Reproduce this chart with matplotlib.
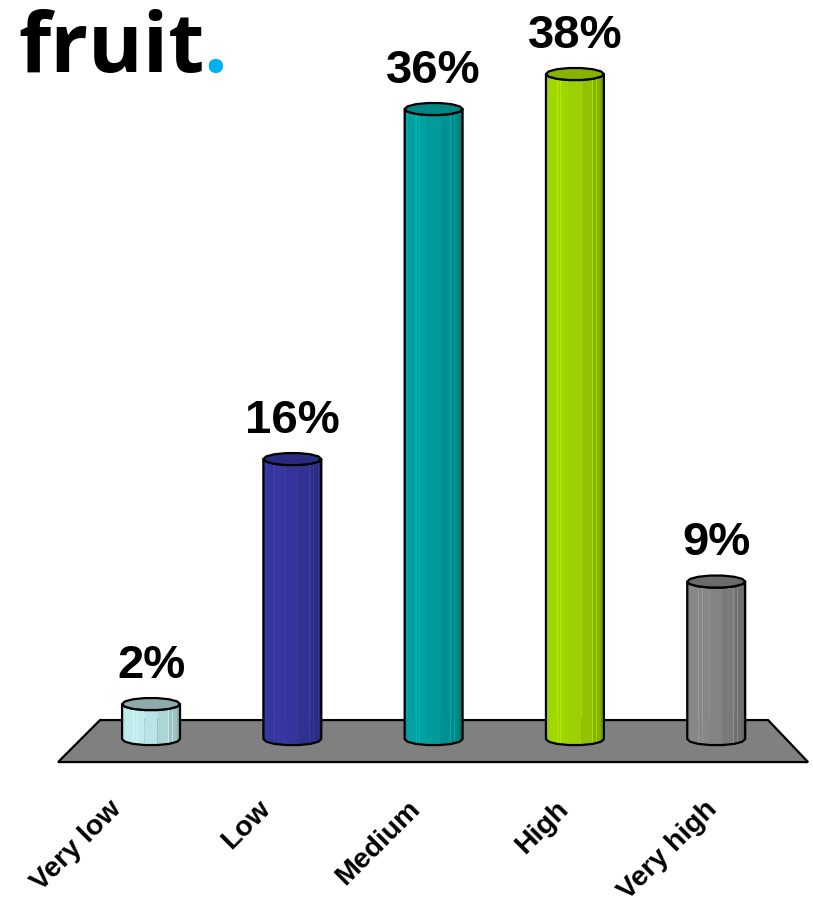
import numpy as np
import matplotlib.pyplot as plt
from matplotlib.patches import Polygon
from matplotlib.colors import to_rgb

categories = ['Very low', 'Low', 'Medium', 'High', 'Very high']
shares = [2, 16, 36, 38, 9]
share_labels = ['2%', '16%', '36%', '38%', '9%']
body_colors = ['#b5dfe0', '#333399', '#009999', '#99cc00', '#808080']
cap_colors = ['#8eaaab', '#2a2a80', '#008585', '#86b300', '#6b6b6b']


def shade(color, f):
    return tuple(min(1.0, c * f) for c in to_rgb(color))


def cylinder(ax, xc, h, body, cap, w=0.205, ry=0.35, n=14):
    """Faceted cylinder standing on y=0, seen slightly from above."""
    phi = np.linspace(np.pi, 2 * np.pi, n // 2 + 1)
    xs = xc + w * np.cos(phi)
    ys = ry * np.sin(phi)
    for k in range(len(phi) - 1):
        t = (0.5 * (phi[k] + phi[k + 1]) - np.pi) / np.pi  # 0 = left edge, 1 = right edge
        f = 1.0 + 0.08 * np.sin(np.pi * t * 1.3) - 0.2 * t ** 2
        quad = [(xs[k], ys[k]), (xs[k + 1], ys[k + 1]),
                (xs[k + 1], ys[k + 1] + h), (xs[k], ys[k] + h)]
        ax.add_patch(Polygon(quad, closed=True, fc=shade(body, f), ec=shade(body, f),
                             lw=0.3, zorder=3))
    # faint highlight streaks
    for dx in (-0.62, -0.5, 0.58, 0.72):
        ax.plot([xc + dx * w] * 2, [ys.min() * 0.6, h - 0.2], color=shade(body, 1.3),
                lw=0.6, alpha=0.6, zorder=3.5)
    body_outline = list(zip(xs, ys)) + list(zip(xs[::-1], ys[::-1] + h))
    ax.add_patch(Polygon(body_outline, closed=True, fc='none', ec='black', lw=1.6,
                         joinstyle='round', zorder=4))
    ring = np.linspace(0, 2 * np.pi, n + 1)
    top = list(zip(xc + w * np.cos(ring), h + ry * np.sin(ring)))
    ax.add_patch(Polygon(top, closed=True, fc=cap, ec='black', lw=1.6,
                         joinstyle='round', zorder=5))


fig = plt.figure(figsize=(8.13, 9.09), dpi=100)
ax = fig.add_axes([0, 0, 1, 1])
ax.set_xlim(-1.069, 4.685)
ax.set_ylim(-9.71, 42.23)
ax.axis('off')

# grey floor under the bars
floor = [(-0.361, 1.086), (4.367, 1.086), (4.65, -1.314), (-0.658, -1.314)]
ax.add_patch(Polygon(floor, closed=True, fc='#808080', ec='black', lw=1.6, zorder=1))

for i, (v, lab) in enumerate(zip(shares, share_labels)):
    cylinder(ax, i, v, body_colors[i], cap_colors[i])
    ax.text(i, v + 1.5, lab, ha='center', va='baseline', fontsize=34,
            fontweight='bold', family='Liberation Sans', zorder=6)

# category names, slanted, ending just left of each bar
for i, cat in enumerate(categories):
    ax.text(i - 0.17 + 0.0545 * i, -3.25, cat, rotation=45, ha='right', va='top',
            fontsize=20.5, fontweight='bold', family='Liberation Sans')

fig.text(18 / 813, 1 - 72 / 909, 'fruit', fontsize=60, fontweight='bold',
         family='Open Sans', va='baseline', ha='left')
fig.text(203 / 813, 1 - 72 / 909, '.', fontsize=60, fontweight='bold',
         family='Open Sans', va='baseline', ha='left', color='#00b0f0')

fig.savefig('out.png', dpi=100)
